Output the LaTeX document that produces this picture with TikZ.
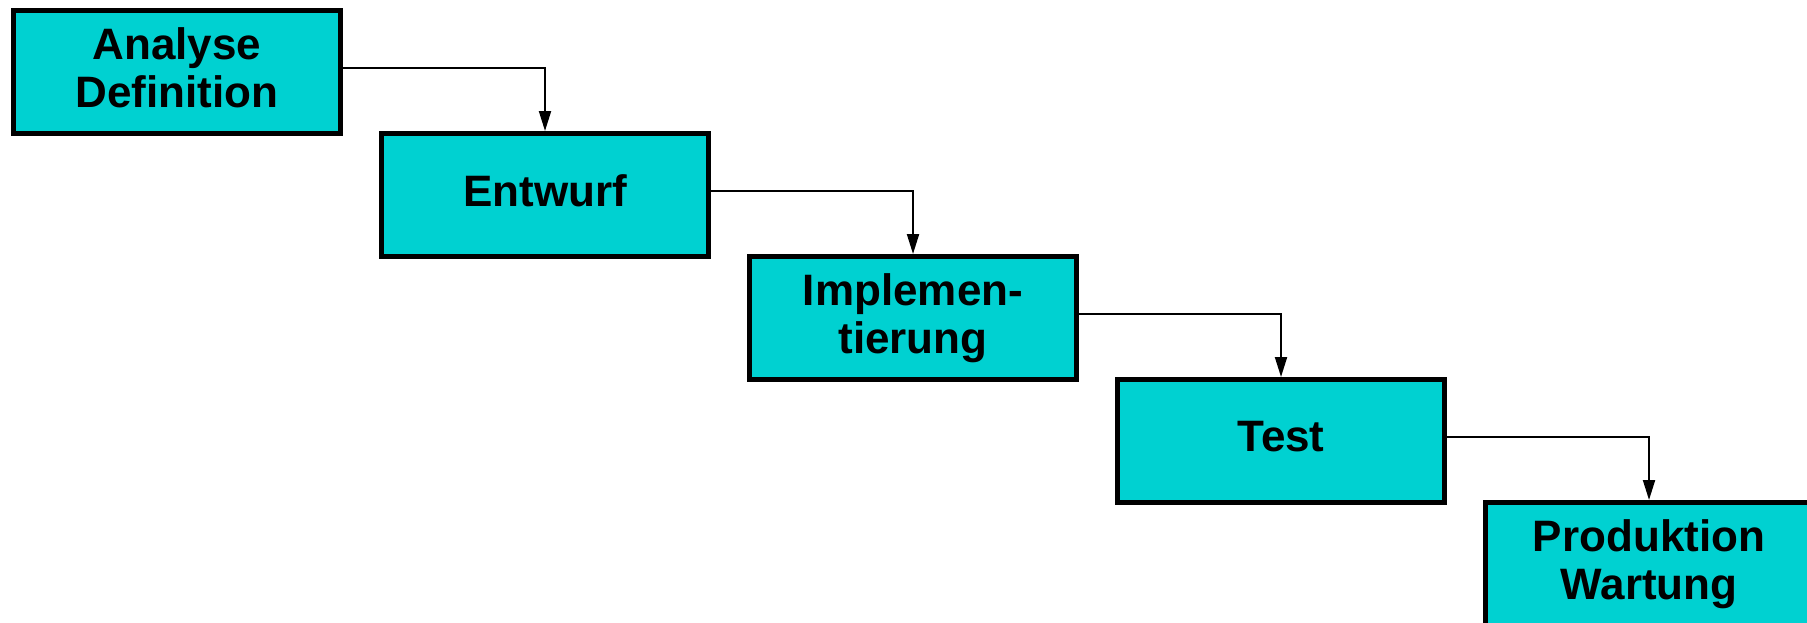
\documentclass[tikz,border=0pt]{standalone}
\usepackage{fontspec}
\setmainfont{Liberation Sans}
\usetikzlibrary{arrows.meta}
\definecolor{phasefill}{RGB}{0,209,209}
\begin{document}
\begin{tikzpicture}[x=0.5pt,y=-0.5pt,
  phase/.style={draw=black, fill=phasefill, line width=2.5pt,
    minimum width=163.5pt, minimum height=61.5pt, inner sep=0pt,
    align=center, font=\bfseries\fontsize{22pt}{24pt}\selectfont,
    execute at end node={\vphantom{g}}},
  flow/.style={draw=black, line width=1pt, -{Triangle[length=10pt,width=6pt]}}]
\useasboundingbox (0,0) rectangle (1807,622);

% the five phases, stepping down to the right
\node[phase] (ana)  at (177,72)   {Analyse\\Definition};
\node[phase] (ent)  at (545,195)  {Entwurf};
\node[phase] (imp)  at (913,318)  {Implemen-\\tierung};
\node[phase] (tst)  at (1281,441) {Test};
\node[phase] (prod) at (1649,564) {Produktion\\Wartung};

% hand-over from each phase to the next
\draw[flow] ([yshift=2pt]ana.east) -| (ent.north);
\draw[flow] ([yshift=2pt]ent.east) -| (imp.north);
\draw[flow] ([yshift=2pt]imp.east) -| (tst.north);
\draw[flow] ([yshift=2pt]tst.east) -| (prod.north);
\end{tikzpicture}
\end{document}
